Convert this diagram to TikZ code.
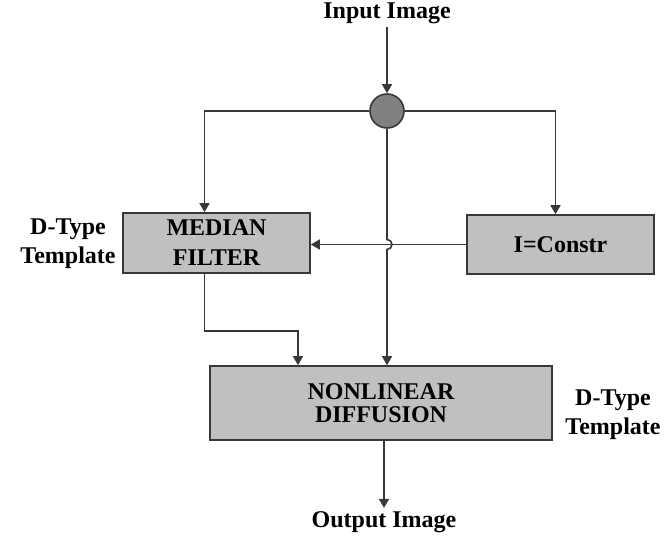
\documentclass[tikz,border=0pt]{standalone}
\usepackage{fontspec}
\setmainfont{Liberation Serif}
\usetikzlibrary{arrows.meta}
\definecolor{boxgray}{HTML}{C0C0C0}
\definecolor{dotgray}{HTML}{808080}
\definecolor{linegray}{HTML}{383838}

\begin{document}
\begin{tikzpicture}[x=1pt, y=1pt,
    box/.style={draw=linegray, fill=boxgray, line width=1.6pt, inner sep=0pt, align=center},
    lbl/.style={font=\bfseries\fontsize{24}{29}\selectfont, align=center},
    link/.style={draw=linegray, line width=1.6pt, -{Triangle[length=9pt, width=10pt]}}]
        \useasboundingbox (0,0) rectangle (671,540);
        % Entrada e divisor
        \node[lbl] (inimg) at (387,527) {Input Image};
        \node[circle, draw=linegray, fill=dotgray, line width=1.6pt, minimum size=34pt, inner sep=0pt] (split) at (387,429) {};
        % Blocos
        \node[box, minimum width=187pt, minimum height=60pt, font=\bfseries\fontsize{24}{30}\selectfont] (median) at (216.5,297) {MEDIAN\\FILTER};
        \node[box, minimum width=187pt, minimum height=59pt, font=\bfseries\fontsize{24}{28}\selectfont] (constr) at (560.5,295.5) {I=Constr};
        \node[box, minimum width=342pt, minimum height=74pt, font=\bfseries\fontsize{24}{23}\selectfont] (nonlin) at (381,137) {NONLINEAR\\DIFFUSION};
        % Rotulos laterais
        \node[lbl] (leftnote) at (68,296.5) {D-Type\\Template};
        \node[lbl] (rightnote) at (613,125) {D-Type\\Template};
        % Saida
        \node[lbl] (outimg) at (384,18) {Output Image};
        % Ligacoes
        \draw[link] (inimg.south) -- (split.north);
        \draw[link] (split.west) -| ([xshift=-12pt]median.north);
        \draw[link] (split.east) -| ([xshift=-5pt]constr.north);
        \draw[link] (constr.west) -- (constr.west -| median.east);
        % Linha central com salto
        \coordinate (hop) at (split |- constr.west);
        \draw[link] (split.south) -- ([yshift=5pt]hop) arc[start angle=90, end angle=-90, radius=5pt] -- (split |- nonlin.north);
        \coordinate (medout) at (298,209);
        \draw[link] ([xshift=-12pt]median.south) |- (medout) -- (medout |- nonlin.north);
        \draw[link] (nonlin.south -| outimg) -- (outimg.north);
    \end{tikzpicture}
\end{document}
